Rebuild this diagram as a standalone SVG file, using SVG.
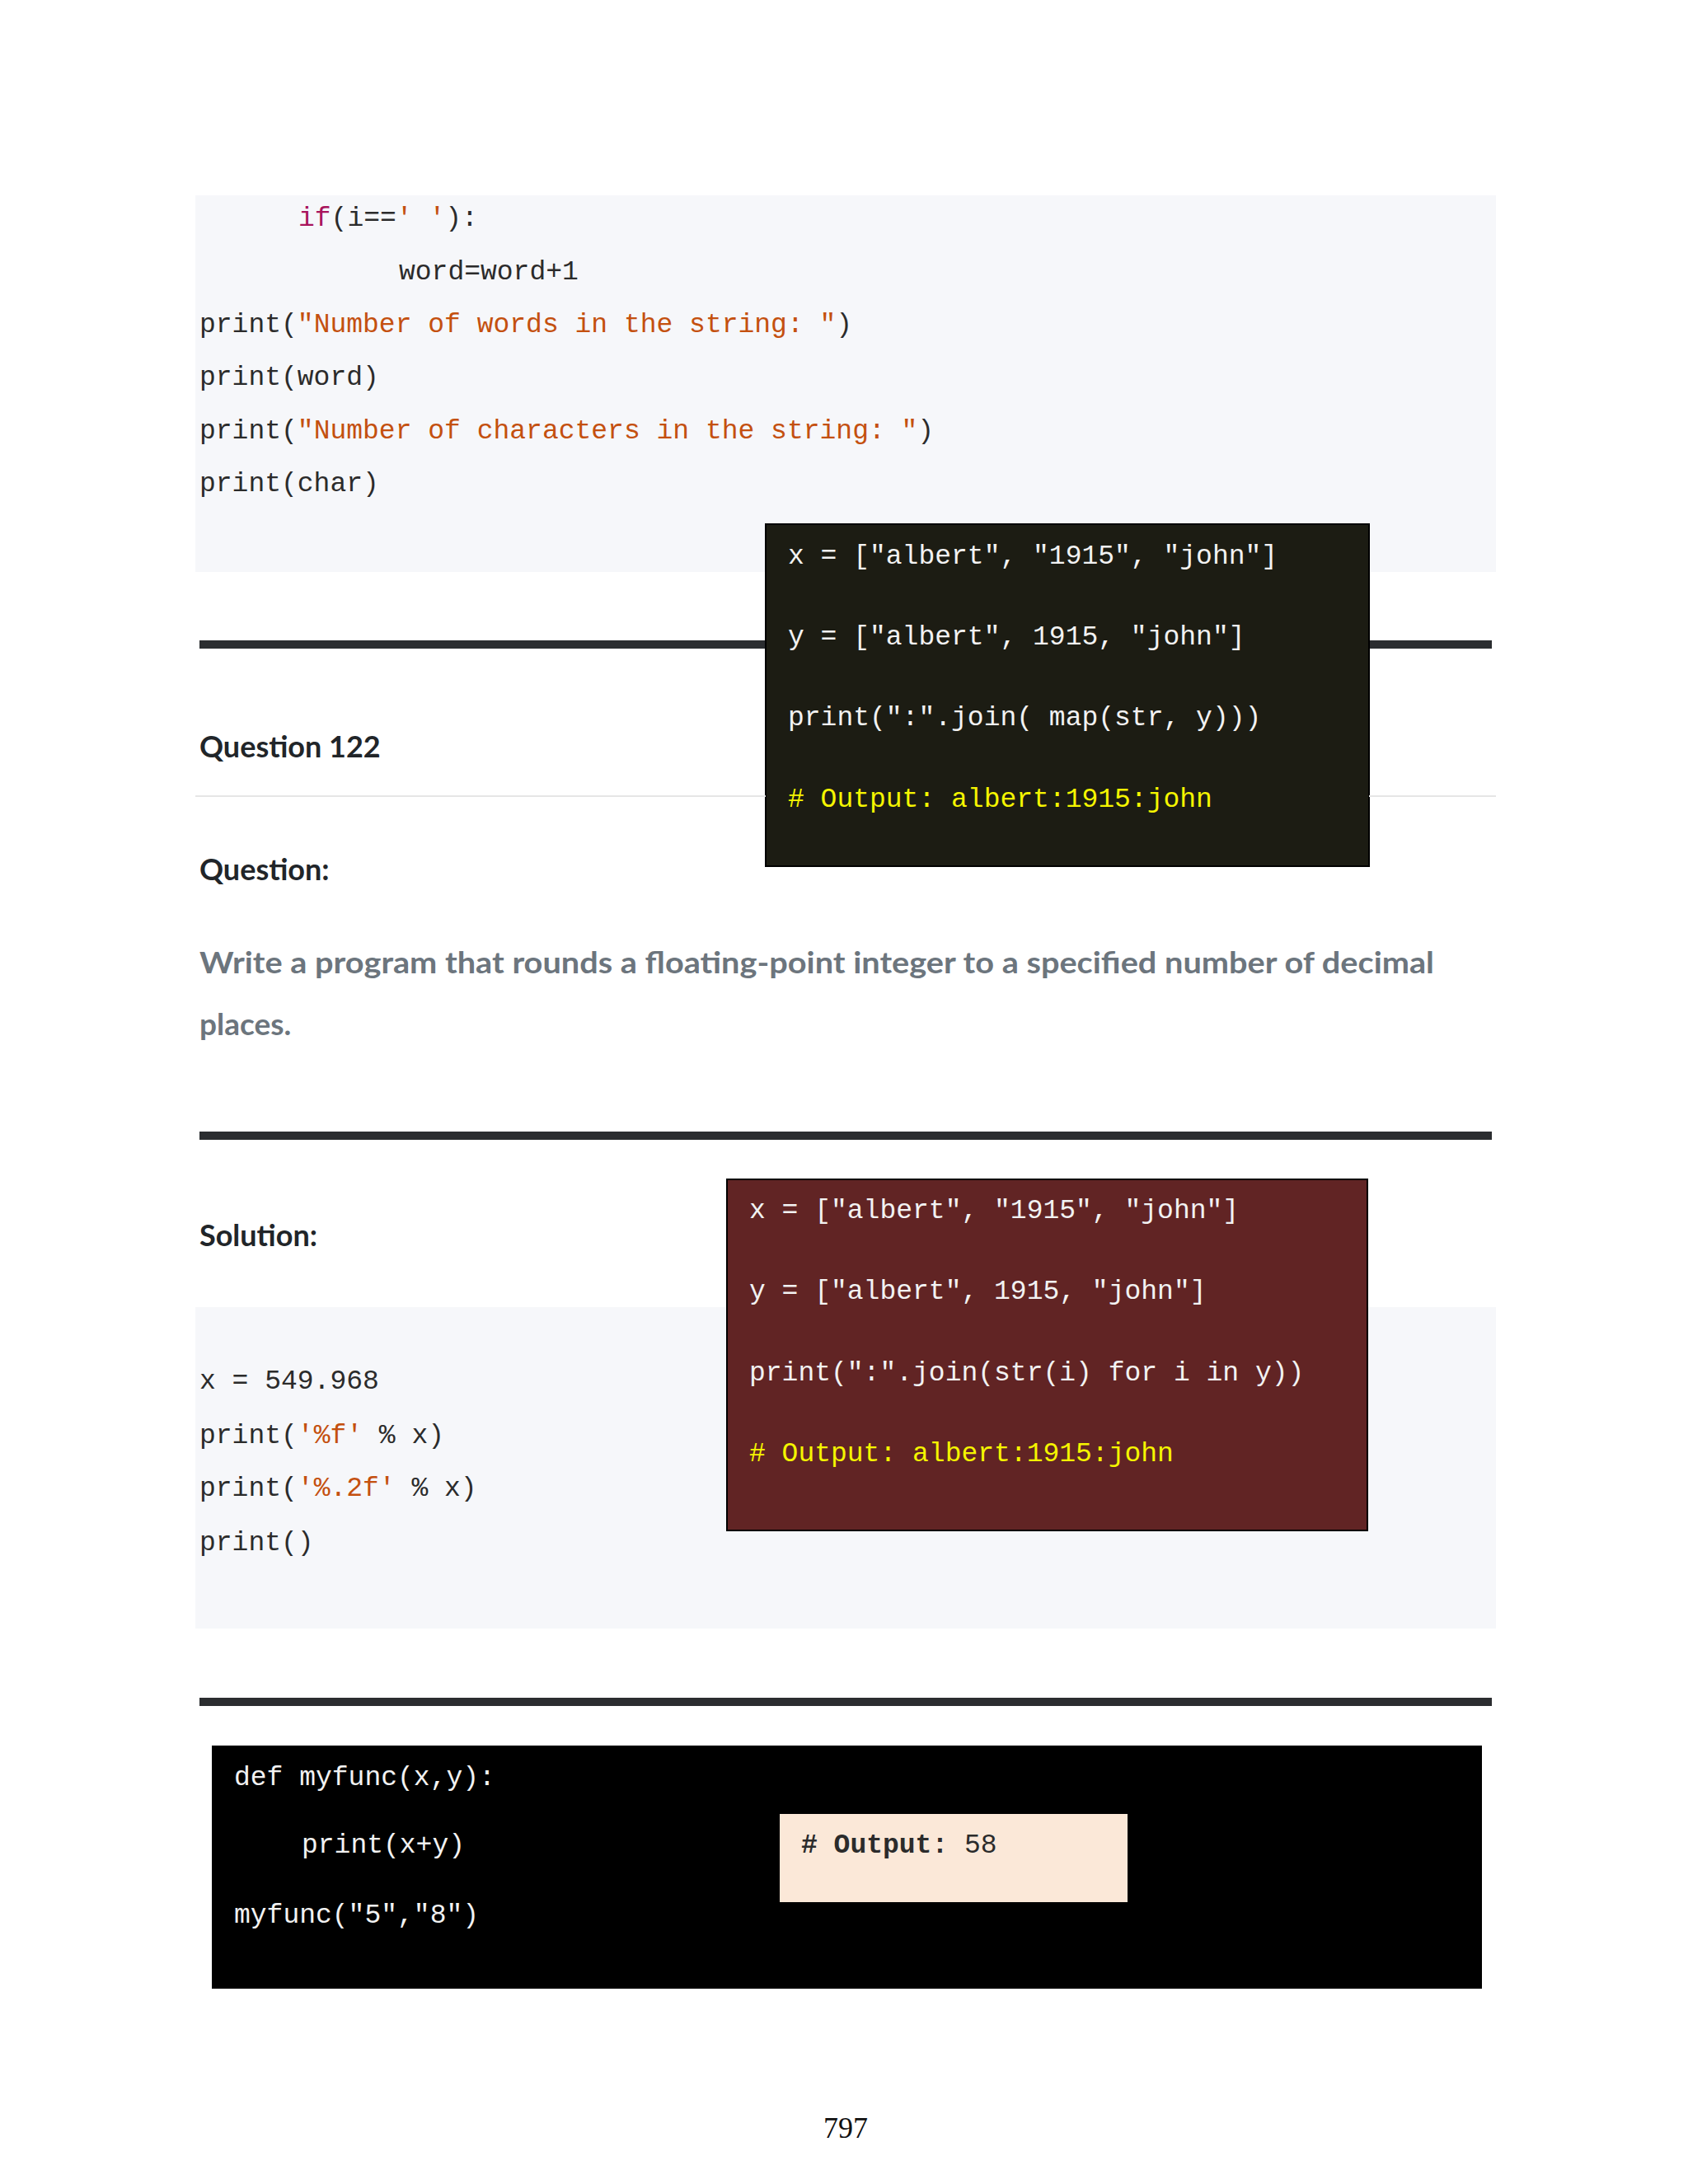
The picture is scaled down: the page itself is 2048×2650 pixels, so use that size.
<svg xmlns="http://www.w3.org/2000/svg" width="2048" height="2650" viewBox="0 0 2048 2650">
<style>
.m{font-family:"Liberation Mono","DejaVu Sans Mono",monospace;font-size:33px;fill:#2b2b2b}
.s{fill:#c4500f}
.k{fill:#a8145c}
.w{fill:#f2f2f2}
.y{fill:#f5f500}
.h{font-family:Lato,"Open Sans",sans-serif;font-weight:bold;font-size:36px;fill:#212529}
.p{font-family:Lato,"Open Sans",sans-serif;font-weight:bold;font-size:37px;fill:#6c757d}
.rule{fill:#2b2d30}
</style>
<rect width="2048" height="2650" fill="#ffffff"/>
<g id="code1">
<rect x="237" y="237" width="1578" height="457" fill="#f6f7fa"/>
<text class="m" x="362" y="274"><tspan class="k">if</tspan>(i==<tspan class="s">' '</tspan>):</text>
<text class="m" x="484" y="339">word=word+1</text>
<text class="m" x="242" y="403">print(<tspan class="s">"Number of words in the string: "</tspan>)</text>
<text class="m" x="242" y="467">print(word)</text>
<text class="m" x="242" y="532">print(<tspan class="s">"Number of characters in the string: "</tspan>)</text>
<text class="m" x="242" y="596">print(char)</text>
</g>
<rect class="rule" x="242" y="777" width="1568" height="10"/>
<g id="box1">
<rect x="929" y="636" width="732" height="415" fill="#1c1c13" stroke="#000" stroke-width="2"/>
<text class="m w" x="956" y="684">x = ["albert", "1915", "john"]</text>
<text class="m w" x="956" y="782">y = ["albert", 1915, "john"]</text>
<text class="m w" x="956" y="880">print(":".join( map(str, y)))</text>
<text class="m y" x="956" y="979"># Output: albert:1915:john</text>
</g>
<text class="h" x="242" y="919">Question 122</text>
<rect x="237" y="965" width="692" height="2" fill="#e6e6e6"/>
<rect x="1661" y="965" width="154" height="2" fill="#e6e6e6"/>
<text class="h" x="242" y="1068">Question:</text>
<text class="p" x="242" y="1181" textLength="1498" lengthAdjust="spacingAndGlyphs">Write a program that rounds a floating-point integer to a specified number of decimal</text>
<text class="p" x="242" y="1256">places.</text>
<rect class="rule" x="242" y="1373" width="1568" height="10"/>
<text class="h" x="242" y="1512">Solution:</text>
<g id="code2">
<rect x="237" y="1586" width="1578" height="390" fill="#f6f7fa"/>
<text class="m" x="242" y="1685">x = 549.968</text>
<text class="m" x="242" y="1751">print(<tspan class="s">'%f'</tspan> % x)</text>
<text class="m" x="242" y="1815">print(<tspan class="s">'%.2f'</tspan> % x)</text>
<text class="m" x="242" y="1881">print()</text>
</g>
<g id="box2">
<rect x="882" y="1431" width="777" height="426" fill="#612424" stroke="#000" stroke-width="2"/>
<text class="m w" x="909" y="1478">x = ["albert", "1915", "john"]</text>
<text class="m w" x="909" y="1576">y = ["albert", 1915, "john"]</text>
<text class="m w" x="909" y="1675">print(":".join(str(i) for i in y))</text>
<text class="m y" x="909" y="1773"># Output: albert:1915:john</text>
</g>
<rect class="rule" x="242" y="2060" width="1568" height="10"/>
<g id="box3">
<rect x="257" y="2118" width="1541" height="295" fill="#000000"/>
<text class="m w" x="284" y="2166">def myfunc(x,y):</text>
<text class="m w" x="366" y="2248">print(x+y)</text>
<text class="m w" x="284" y="2333">myfunc("5","8")</text>
</g>
<g id="output">
<rect x="946" y="2201" width="422" height="107" fill="#fbe8d8"/>
<text class="m" x="972" y="2248" font-weight="bold" fill="#111">#  Output:  <tspan font-weight="normal">58</tspan></text>
</g>
<text x="1026" y="2594" text-anchor="middle" font-family="Liberation Serif,serif" font-size="36" fill="#111">797</text>
</svg>
